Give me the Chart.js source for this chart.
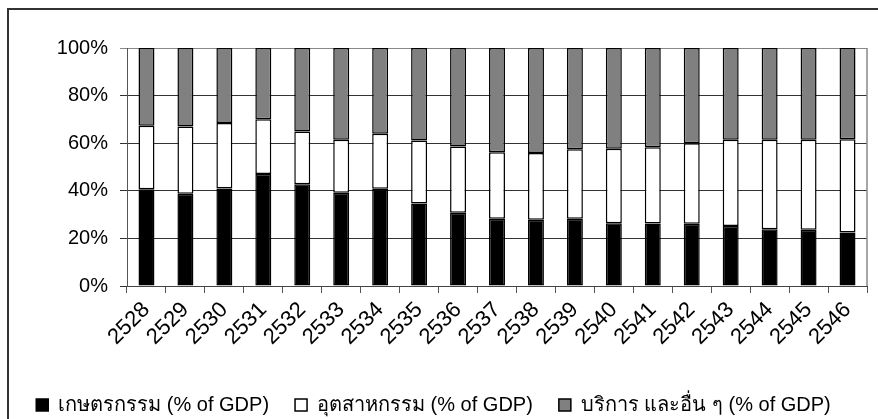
<!DOCTYPE html>
<html>
<head>
<meta charset="utf-8">
<script src="https://cdn.jsdelivr.net/npm/chart.js@4.4.8/dist/chart.umd.min.js"></script>
<style>
  html, body { margin: 0; padding: 0; background: #fff; }
  #wrap { position: relative; width: 878px; height: 419px; overflow: hidden; }
  #frame { position: absolute; left: 7px; top: 8px; width: 900px; height: 500px; border: 2px solid #333; box-sizing: border-box; }
  canvas { position: absolute; left: 0; top: 0; }
</style>
</head>
<body>
<div id="wrap">
  <div id="frame"></div>
  <canvas id="myChart" width="878" height="419"></canvas>
</div>
<script>
// years (Buddhist era)
const years = ['2528', '2529', '2530', '2531', '2532', '2533', '2534', '2535', '2536', '2537',
               '2538', '2539', '2540', '2541', '2542', '2543', '2544', '2545', '2546'];
// shares of GDP, %
const agriculture = [40.6, 38.8, 41.0, 47.1, 42.7, 39.2, 40.9, 34.7, 30.8, 28.3,
                     27.8, 28.3, 26.4, 26.3, 26.2, 25.2, 23.8, 23.6, 22.5];
const industry = [26.7, 28.2, 27.5, 23.0, 22.2, 22.2, 23.1, 26.4, 27.8, 27.9,
                  28.1, 29.2, 31.3, 32.0, 33.8, 36.2, 37.6, 37.9, 39.2];
const services = [32.7, 33.0, 31.5, 29.9, 35.1, 38.6, 36.0, 38.9, 41.4, 43.8,
                  44.1, 42.5, 42.3, 41.7, 40.0, 38.6, 38.6, 38.5, 38.3];
const seriesNames = ['เกษตรกรรม (% of GDP)', 'อุตสาหกรรม (% of GDP)', 'บริการ และอื่น ๆ (% of GDP)'];
const yTicks = [0, 20, 40, 60, 80, 100];

const FONT = "'Liberation Sans', Arial, Helvetica, sans-serif";

// gray right edge of the plot area
const plotEdge = {
  id: 'plotEdge',
  beforeDatasetsDraw(chart) {
    const a = chart.chartArea;
    const c = chart.ctx;
    c.save();
    c.strokeStyle = '#888';
    c.lineWidth = 1.5;
    c.beginPath();
    c.moveTo(a.right, a.top);
    c.lineTo(a.right, a.bottom);
    c.stroke();
    c.restore();
  }
};

function ds(label, data, fill) {
  return {
    label: label,
    data: data,
    backgroundColor: fill,
    borderColor: '#000',
    borderWidth: 1.5,
    borderSkipped: false,
    barPercentage: 0.41,
    categoryPercentage: 1.0
  };
}

new Chart(document.getElementById('myChart'), {
  type: 'bar',
  data: {
    labels: years,
    datasets: [
      ds(seriesNames[0], agriculture, '#000'),
      ds(seriesNames[1], industry, '#fff'),
      ds(seriesNames[2], services, '#808080')
    ]
  },
  plugins: [plotEdge],
  options: {
    responsive: false,
    animation: false,
    devicePixelRatio: 1,
    layout: { padding: { top: 48, right: 11, bottom: -6, left: 0 } },
    plugins: {
      tooltip: { enabled: false },
      legend: {
        position: 'bottom',
        labels: {
          color: '#000',
          font: { family: FONT, size: 20 },
          boxWidth: 12,
          boxHeight: 12,
          padding: 26
        }
      }
    },
    scales: {
      x: {
        stacked: true,
        afterFit(scale) { scale.height = 83; },
        grid: {
          offset: true,
          drawOnChartArea: false,
          drawTicks: true,
          tickLength: 7,
          color: '#555'
        },
        border: { color: '#444', width: 1 },
        ticks: {
          color: '#000',
          font: { family: FONT, size: 22 },
          minRotation: 45,
          maxRotation: 45,
          autoSkip: false,
          padding: 4
        }
      },
      y: {
        stacked: true,
        min: 0,
        max: 100,
        afterFit(scale) { scale.width = 127; },
        afterBuildTicks(scale) { scale.ticks = yTicks.map(v => ({ value: v })); },
        grid: {
          color: ctx => (ctx.tick && ctx.tick.value === 100) ? '#888' : '#333',
          lineWidth: 1,
          tickLength: 7
        },
        border: { color: '#555', width: 1 },
        ticks: {
          color: '#000',
          font: { family: FONT, size: 20 },
          padding: 12,
          callback: v => v + '%'
        }
      }
    }
  }
});
</script>
</body>
</html>
